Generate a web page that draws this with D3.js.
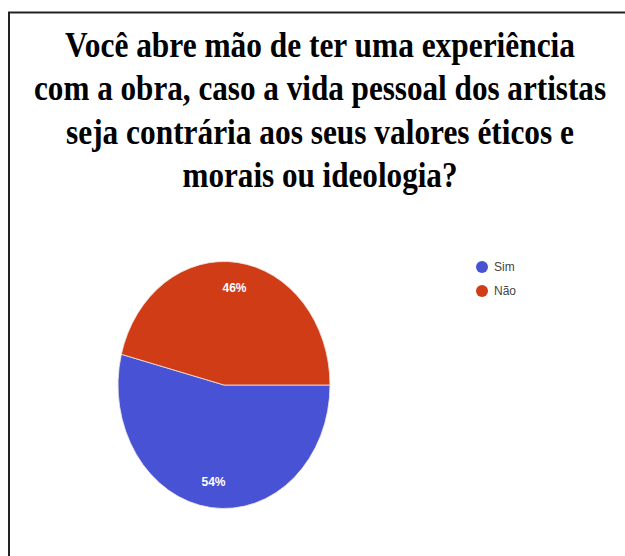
<!DOCTYPE html>
<html>
<head>
<meta charset="utf-8">
<script src="https://cdn.jsdelivr.net/npm/d3@7"></script>
<style>
    html, body { margin: 0; padding: 0; background: #fff; }
    svg { display: block; }
</style>
</head>
<body>
<svg id="chart"></svg>
<script>
// Chart data
const categories = ["Sim", "Não"];
const shares = [54, 46];
const sliceColors = ["#4753d4", "#d03c16"];
const titleLines = [
    "Você abre mão de ter uma experiência",
    "com a obra, caso a vida pessoal dos artistas",
    "seja contrária aos seus valores éticos e",
    "morais ou ideologia?"
];
// measured widths of each title line in the picture
const titleWidths = [510, 572, 508, 275];

const width = 625;
const height = 556;

let svg = d3.select("#chart")
    .attr("width", width)
    .attr("height", height);

svg.append("rect")
    .attr("width", width)
    .attr("height", height)
    .attr("fill", "#fff");

// frame (only top and left edges are inside the picture)
svg.append("path")
    .attr("d", `M9,${height} L9,12.5 L${width},12.5`)
    .attr("fill", "none")
    .attr("stroke", "#222")
    .attr("stroke-width", 2);

// Title - the font in the picture is tall and narrow, so scale it up vertically
svg.append("g")
    .selectAll("text")
    .data(titleLines)
    .enter().append("text")
    .attr("transform", (d, i) => `translate(320,${57 + i * 43.3}) scale(1,1.17)`)
    .attr("text-anchor", "middle")
    .attr("textLength", (d, i) => titleWidths[i])
    .attr("lengthAdjust", "spacingAndGlyphs")
    .style("font-family", "'Liberation Serif', 'Times New Roman', serif")
    .style("font-weight", "bold")
    .style("font-size", "30px")
    .style("fill", "#000")
    .text(d => d);

// Pie (drawn as a circle then stretched vertically)
let cx = 224, cy = 385;
let rx = 106, ry = 123.5;
let stretch = ry / rx;

let data = categories.map((c, i) => ({label: c, value: shares[i], color: sliceColors[i]}));

let pie = d3.pie()
    .value(d => d.value)
    .sort(null)
    .startAngle(Math.PI / 2)
    .endAngle(Math.PI / 2 + 2 * Math.PI);

let arc = d3.arc()
    .innerRadius(0)
    .outerRadius(rx);

let labelArc = d3.arc()
    .innerRadius(rx * 0.79)
    .outerRadius(rx * 0.79);

let arcs = pie(data);

svg.append("g")
    .attr("transform", `translate(${cx},${cy}) scale(1,${stretch})`)
    .selectAll("path")
    .data(arcs)
    .enter().append("path")
    .attr("d", arc)
    .attr("fill", d => d.data.color)
    .attr("stroke", "#f3e6e0")
    .attr("stroke-width", 0.8)
    .attr("vector-effect", "non-scaling-stroke");

// Percent labels
svg.append("g")
    .attr("transform", `translate(${cx},${cy})`)
    .selectAll("text")
    .data(arcs)
    .enter().append("text")
    .attr("x", d => labelArc.centroid(d)[0])
    .attr("y", d => labelArc.centroid(d)[1] * stretch)
    .attr("dy", "0.35em")
    .attr("text-anchor", "middle")
    .style("font-family", "'Liberation Sans', Arial, sans-serif")
    .style("font-size", "12px")
    .style("font-weight", "bold")
    .style("fill", "#fff")
    .text(d => d.data.value + "%");

// Legend
let legend = svg.append("g")
    .selectAll("g")
    .data(data)
    .enter().append("g")
    .attr("transform", (d, i) => `translate(482,${267 + i * 24})`);

legend.append("circle")
    .attr("r", 6)
    .attr("fill", d => d.color);

legend.append("text")
    .attr("x", 12)
    .attr("dy", "0.35em")
    .style("font-family", "'Liberation Sans', Arial, sans-serif")
    .style("font-size", "12px")
    .style("fill", "#444")
    .text(d => d.label);
</script>
</body>
</html>
